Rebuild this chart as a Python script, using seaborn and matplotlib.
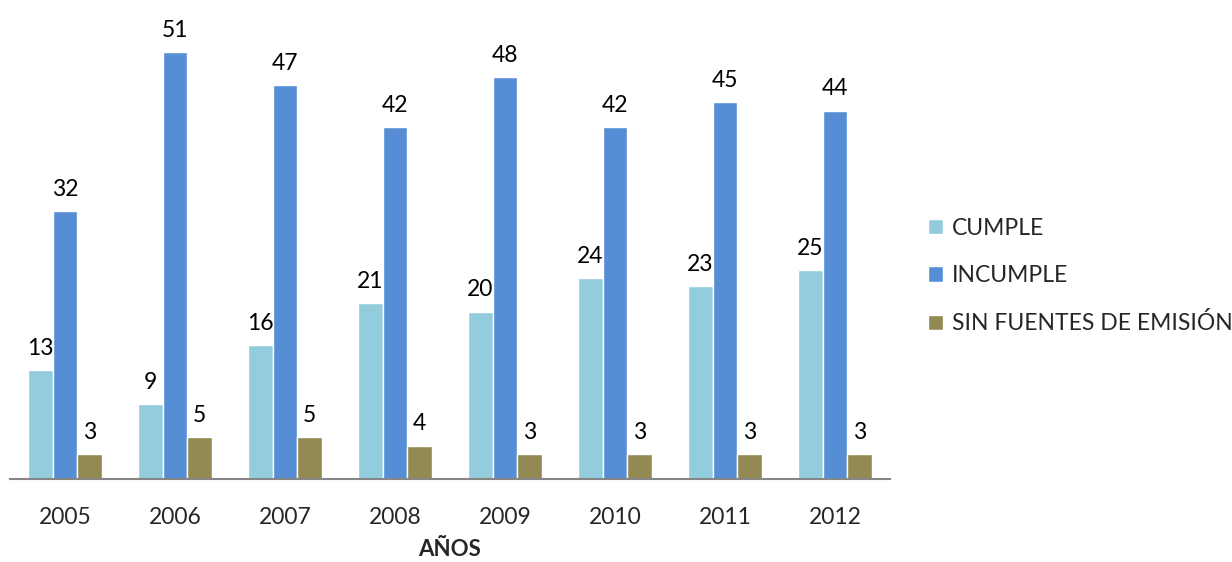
import matplotlib
matplotlib.use("Agg")
import matplotlib.pyplot as plt
import seaborn as sns
import pandas as pd

years = ["2005", "2006", "2007", "2008", "2009", "2010", "2011", "2012"]
cumple = [13, 9, 16, 21, 20, 24, 23, 25]
incumple = [32, 51, 47, 42, 48, 42, 45, 44]
sin_fuentes = [3, 5, 5, 4, 3, 3, 3, 3]
series_names = ["CUMPLE", "INCUMPLE", "SIN FUENTES DE EMISIÓN"]
colors = ["#93CDDD", "#558ED5", "#938953"]

df = pd.DataFrame({
    "year": years * 3,
    "value": cumple + incumple + sin_fuentes,
    "serie": [s for s in series_names for _ in years],
})

sns.set_style("white")
plt.rcParams["font.family"] = ["Lato", "DejaVu Sans"]

fig = plt.figure(figsize=(12.32, 5.62), dpi=100)
ax = fig.add_axes([10 / 1232, 1 - 479 / 562, 880 / 1232, 469 / 562])

sns.barplot(data=df, x="year", y="value", hue="serie", palette=colors,
            width=0.67, gap=0, saturation=1, ax=ax, legend=True)

for cont in ax.containers:
    ax.bar_label(cont, padding=8, fontsize=16.5, color="black")

ax.set_ylim(0, 56)
ax.set_xlim(-0.5, len(years) - 0.5)
for side in ["left", "right", "top"]:
    ax.spines[side].set_visible(False)
ax.spines["bottom"].set_color("#868686")
ax.spines["bottom"].set_linewidth(1.5)
ax.set_yticks([])
ax.set_ylabel("")
ax.tick_params(axis="x", length=0, labelsize=16.5, pad=20)
ax.set_xlabel("AÑOS", fontsize=16, fontweight="bold", labelpad=8)

leg = ax.legend(loc="center left", bbox_to_anchor=(1.020, 0.433), frameon=False,
                fontsize=16.5, handlelength=0.65, handleheight=0.65,
                handletextpad=0.4, labelspacing=1.15)

fig.savefig("out.png", dpi=100)
